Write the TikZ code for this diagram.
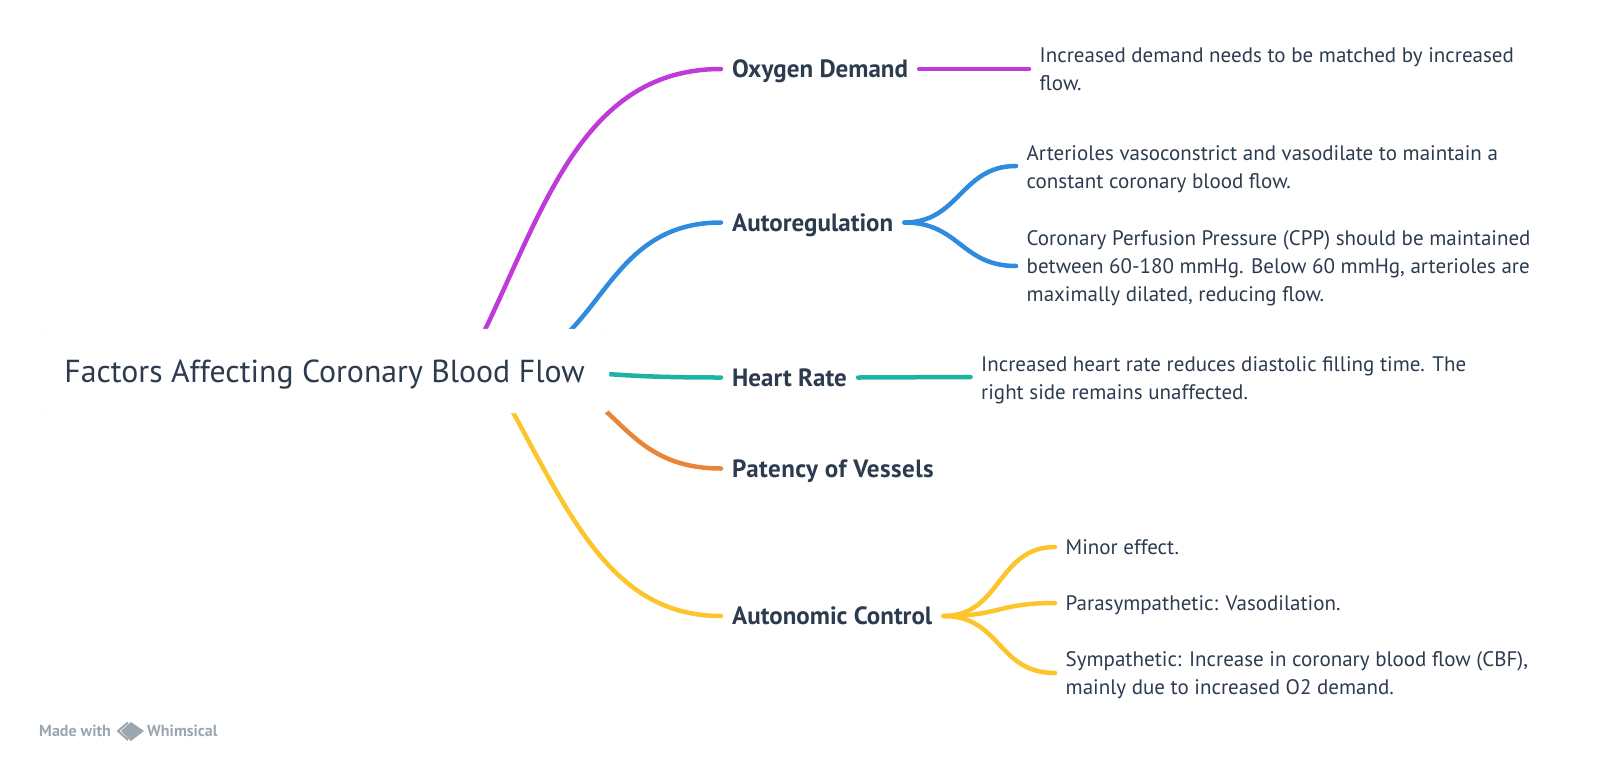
\documentclass[tikz,border=0pt]{standalone}
\usepackage{fontspec}
\setmainfont{PT Sans}
\usetikzlibrary{backgrounds}

\definecolor{inkblue}{HTML}{2D3B4E}
\definecolor{footgray}{HTML}{9BA6AF}
\definecolor{magentaline}{HTML}{BF3BD9}
\definecolor{blueline}{HTML}{2E8BE0}
\definecolor{tealline}{HTML}{1DB3A0}
\definecolor{orangeline}{HTML}{E98539}
\definecolor{yellowline}{HTML}{FBC52B}

\begin{document}
\begin{tikzpicture}[
x=1pt, y=-1pt,
rootbox/.style={draw=black!3, fill=white, rounded corners=6pt, minimum width=569pt, minimum height=84pt, text height=29pt, text depth=7pt, text=inkblue, font=\fontsize{31.8}{36}\selectfont},
topic/.style={anchor=west, inner xsep=11pt, inner ysep=2pt, text height=23pt, text depth=5.5pt, text=inkblue, font=\fontsize{25}{28}\bfseries\selectfont},
detail/.style={anchor=west, align=left, inner xsep=10.5pt, inner ysep=2pt, text=inkblue, font=\fontsize{21}{28}\selectfont},
link/.style={line width=4.5pt, line cap=round},
foot/.style={anchor=west, inner sep=0pt, text=footgray, font=\fontsize{16}{18}\bfseries\selectfont},
]
\useasboundingbox (0,0) rectangle (1600,761);

\node[rootbox] (root) at (324.5,371) {Factors Affecting Coronary Blood Flow};

\node[topic] (oxygen) at (721,69) {Oxygen Demand};
\node[topic] (auto) at (721,222.5) {Autoregulation};
\node[topic] (heart) at (721,377.5) {Heart Rate};
\node[topic] (patency) at (721,468.5) {\addfontfeature{LetterSpace=1.8}Patency of Vessels};
\node[topic] (autonomic) at (721,616) {Autonomic Control};

\node[detail] (oxygenA) at (1029,69) {Increased demand needs to be matched by increased\\flow.};
\node[detail] (autoA) at (1016,169) {Arterioles vasoconstrict and vasodilate to maintain a\\constant coronary blood flow.};
\node[detail] (autoB) at (1016,268) {Coronary Perfusion Pressure (CPP) should be maintained\\between 60-180 mmHg. Below 60 mmHg, arterioles are\\maximally dilated, reducing flow.};
\node[detail] (heartA) at (970.5,380) {Increased heart rate reduces diastolic filling time. The\\right side remains unaffected.};
\node[detail] (minor) at (1055,547) {Minor effect.};
\node[detail] (para) at (1055,605) {Parasympathetic: Vasodilation.};
\node[detail] (symp) at (1055,675) {Sympathetic: Increase in coronary blood flow (CBF),\\mainly due to increased O2 demand.};

% curves start behind the root box
\coordinate (s1) at (470,360);
\coordinate (s2) at (475,372);
\coordinate (s3) at (500,371);
\coordinate (s4) at (510,372);
\coordinate (s5) at (498,385);

\begin{pgfonlayer}{background}
\draw[link, magentaline] (s1) .. controls +(70,-135) and +(-146,0) .. (oxygen.west);
\draw[link, blueline] (s2) .. controls +(130,0) and +(-130,0) .. (auto.west);
\draw[link, tealline] (s3) .. controls +(120,0) and +(-120,0) .. (heart.west);
\draw[link, orangeline] (s4) .. controls +(110,0) and +(-110,0) .. (patency.west);
\draw[link, yellowline] (s5) .. controls +(70,125) and +(-113,0) .. (autonomic.west);
\end{pgfonlayer}

\draw[link, magentaline] (oxygen.east) -- (oxygenA.west);
\draw[link, blueline] (auto.east) .. controls +(55,0) and +(-55,0) .. ([yshift=3pt]autoA.west);
\draw[link, blueline] (auto.east) .. controls +(55,0) and +(-55,0) .. ([yshift=2pt]autoB.west);
\draw[link, tealline] (heart.east) -- ([yshift=3pt]heartA.west);
\draw[link, yellowline] (autonomic.east) .. controls +(58,0) and +(-58,0) .. (minor.west);
\draw[link, yellowline] (autonomic.east) .. controls +(58,0) and +(-58,0) .. ([yshift=2pt]para.west);
\draw[link, yellowline] (autonomic.east) .. controls +(58,0) and +(-58,0) .. ([yshift=2pt]symp.west);

% footer
\node[foot] (made) at (39,731) {Made with};
\node[foot] (whim) at (147,731) {Whimsical};
\fill[footgray] (131,722) -- (144,731) -- (131,741) -- (121,731) -- cycle;
\draw[footgray, line width=2pt] (128,722.5) -- (118,731) -- (128,740);
\end{tikzpicture}
\end{document}
